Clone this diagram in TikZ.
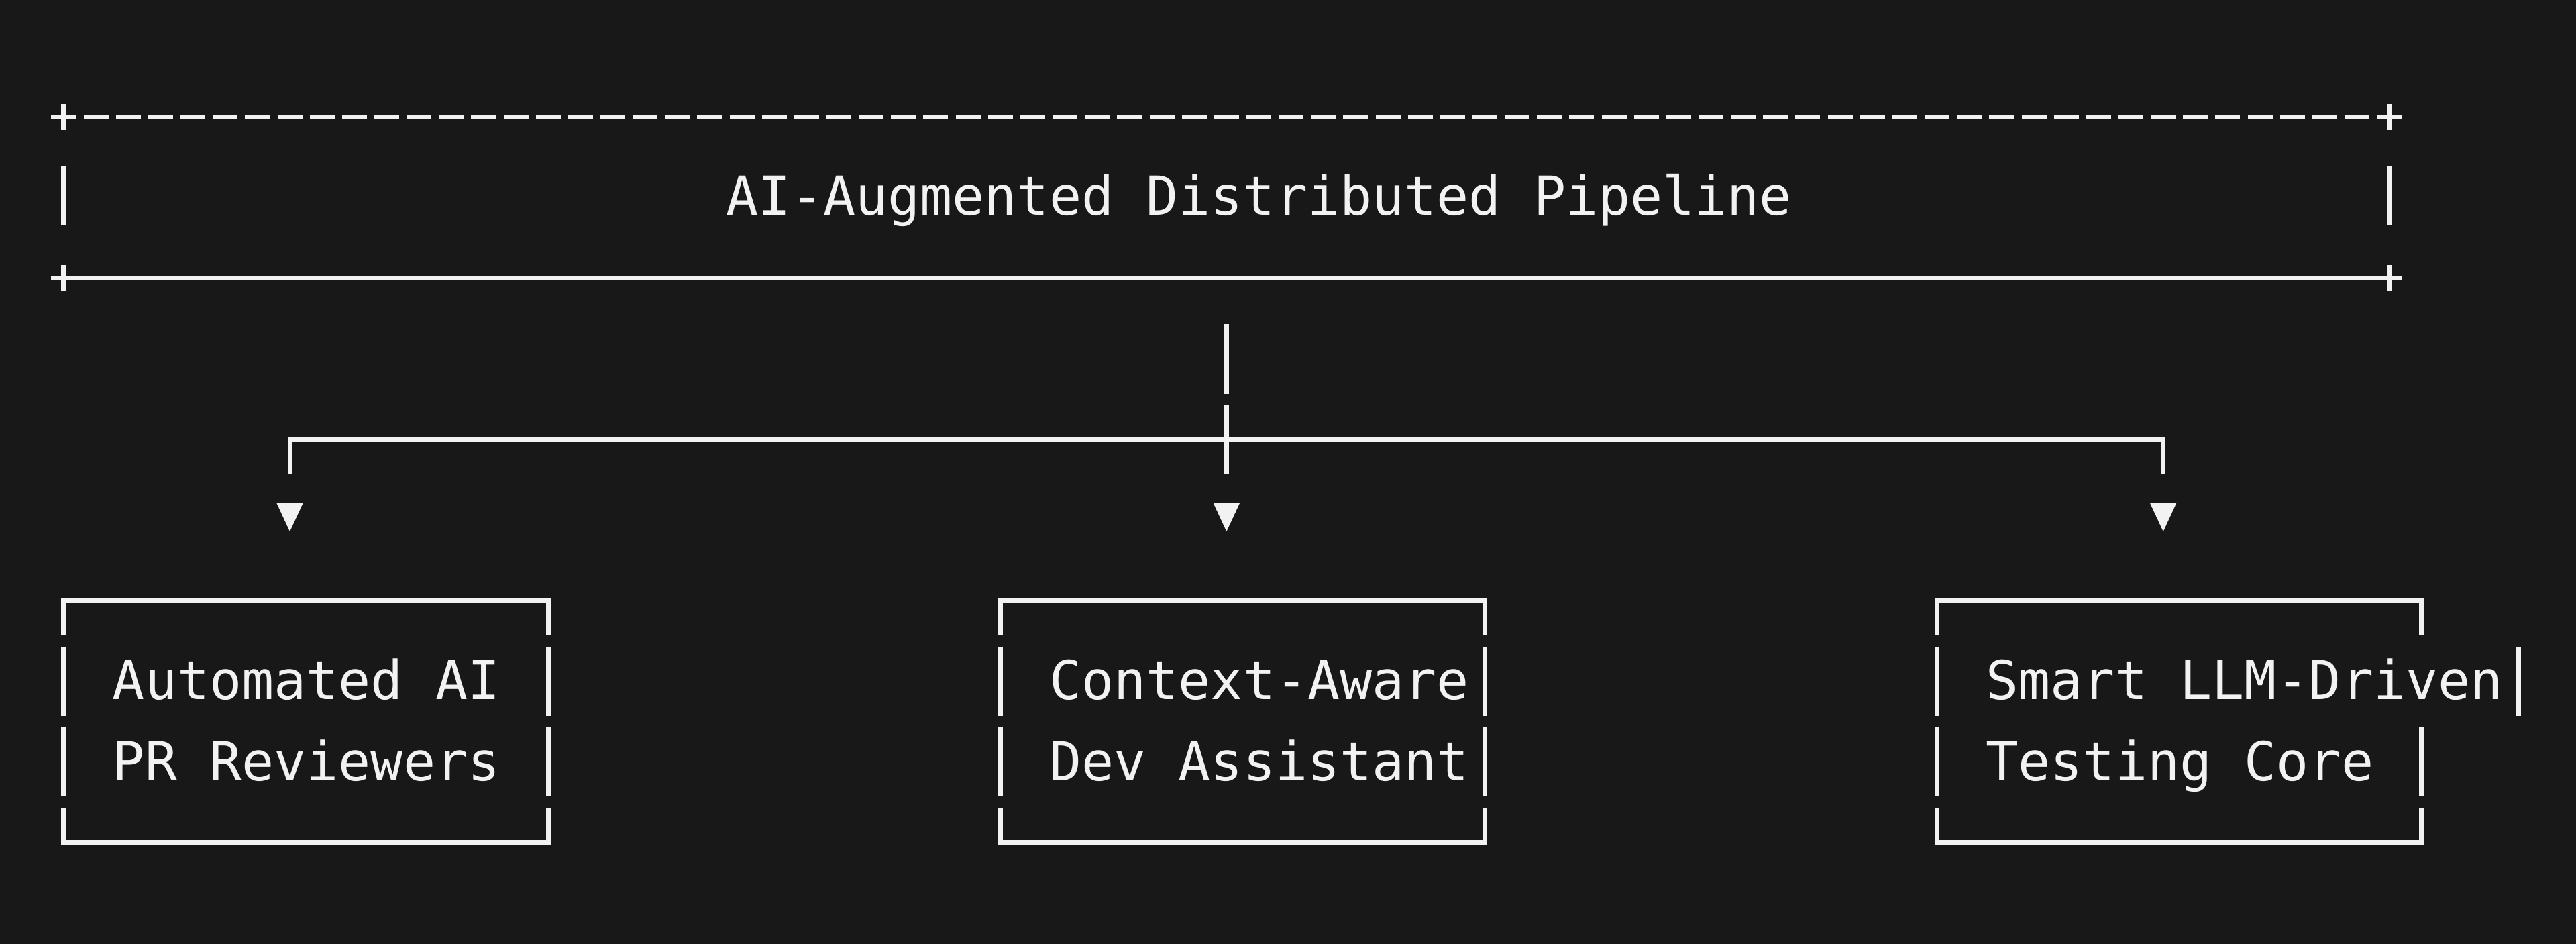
\documentclass[tikz,border=0pt]{standalone}
\usepackage{fontspec}
\setmonofont{DejaVu Sans Mono}
\definecolor{termbg}{RGB}{24,24,24}
\definecolor{termfg}{RGB}{242,242,242}

\begin{document}
\begin{tikzpicture}[x=0.4815cm, y=-1.2015cm,
        glyph/.style={draw=termfg, line width=0.07cm},
        rule/.style={glyph, line cap=rect},
        stem/.style={glyph, dash pattern=on 1.0333cm off 0.1682cm},
        side/.style={stem, dash phase=0.5166cm},
        txt/.style={anchor=base west, inner sep=0pt, text=termfg,
            font=\ttfamily\fontsize{22.75pt}{34pt}\selectfont}]

    \fill[termbg] (-1.973,-1.4524) rectangle (77.78,10.258);
    \useasboundingbox (-1.973,-1.4524) rectangle (77.78,10.258);

    \node[txt] (title) at (20.5,1.215) {AI-Augmented Distributed Pipeline};

    \draw[glyph, dash pattern=on 0.37cm off 0.1115cm] (0.616,0) -- (71.384,0);
    \draw[glyph] (-0.395,0) -- (0.395,0) (0,-0.162) -- (0,0.162);
    \draw[glyph] (71.605,0) -- (72.395,0) (72,-0.162) -- (72,0.162);
    \draw[glyph] (0,0.612) -- (0,1.336);
    \draw[glyph] (72,0.612) -- (72,1.336);
    \draw[glyph] (-0.395,2) -- (72.395,2) (0,1.838) -- (0,2.162) (72,1.838) -- (72,2.162);

    \coordinate (hdr) at (36,2.57);
    \coordinate (bus) at (36,4);
    \coordinate (dropA) at (7,4.43);
    \coordinate (dropB) at (36,4.43);
    \coordinate (dropC) at (65,4.43);
    \coordinate (tipA) at (7,4.782);
    \coordinate (tipB) at (36,4.782);
    \coordinate (tipC) at (65,4.782);

    \draw[stem] (hdr) -- (dropB);
    \draw[glyph] (bus) -| (dropA);
    \draw[glyph] (bus) -| (dropC);
    \fill[termfg] (tipA) ++(-0.415,0) -- ++(0.83,0) -- ++(-0.415,0.358) -- cycle;
    \fill[termfg] (tipB) ++(-0.415,0) -- ++(0.83,0) -- ++(-0.415,0.358) -- cycle;
    \fill[termfg] (tipC) ++(-0.415,0) -- ++(0.83,0) -- ++(-0.415,0.358) -- cycle;

    \node[txt] (rev1) at (1.5,7.228) {Automated AI};
    \node[txt] (rev2) at (1.5,8.228) {PR Reviewers};
    \draw[rule] (0,6) -- (15,6);
    \draw[rule] (0,9) -- (15,9);
    \draw[side] (0,6) -- (0,9);
    \draw[side] (15,6) -- (15,9);

    \node[txt] (dev1) at (30.5,7.228) {Context-Aware};
    \node[txt] (dev2) at (30.5,8.228) {Dev Assistant};
    \draw[rule] (29,6) -- (44,6);
    \draw[rule] (29,9) -- (44,9);
    \draw[side] (29,6) -- (29,9);
    \draw[side] (44,6) -- (44,9);

    \node[txt] (test1) at (59.5,7.228) {Smart LLM-Driven};
    \node[txt] (test2) at (59.5,8.228) {Testing Core};
    \draw[rule] (58,6) -- (73,6);
    \draw[rule] (58,9) -- (73,9);
    \draw[side] (58,6) -- (58,9);
    \draw[glyph] (73,6) -- (73,6.43);
    \draw[glyph] (76,6.57) -- (76,7.43);
    \draw[stem] (73,7.57) -- (73,9);
\end{tikzpicture}
\end{document}
